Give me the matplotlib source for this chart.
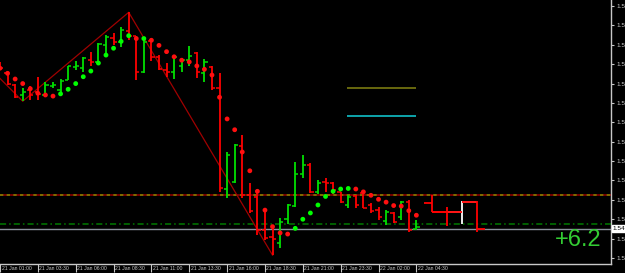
import matplotlib
matplotlib.use('Agg')
import matplotlib.pyplot as plt
import matplotlib.transforms as mtransforms
import numpy as np

# ---------------- data (M30 bars, bar index 0 = 21 Jan 01:00) ----------------
bar_index = list(range(56))
opens = [1.5764, 1.5752, 1.5731, 1.5713, 1.5722, 1.5718, 1.5713, 1.5729, 1.5722, 1.5740,
         1.5762, 1.5760, 1.5774, 1.5771, 1.5801, 1.5813, 1.5806, 1.5826, 1.5816, 1.5753,
         1.5808, 1.5780, 1.5757, 1.5753, 1.5763, 1.5774, 1.5786, 1.5752, 1.5762, 1.5725,
         1.5548, 1.5560, 1.5623, 1.5538, 1.5534, 1.5476, 1.5464, 1.5453, 1.5496, 1.5518,
         1.5574, 1.5591, 1.5543, 1.5561, 1.5559, 1.5543, 1.5520, 1.5536, 1.5541, 1.5520,
         1.5511, 1.5492, 1.5506, 1.5499, 1.5525, 1.5478]
highs = [1.5771, 1.5754, 1.5733, 1.5725, 1.5728, 1.5745, 1.5736, 1.5735, 1.5741, 1.5764,
         1.5773, 1.5780, 1.5788, 1.5804, 1.5818, 1.5822, 1.5832, 1.5858, 1.5817, 1.5813,
         1.5812, 1.5783, 1.5769, 1.5783, 1.5778, 1.5799, 1.5789, 1.5776, 1.5764, 1.5752,
         1.5613, 1.5627, 1.5643, 1.5559, 1.5546, 1.5511, 1.5485, 1.5497, 1.5522, 1.5595,
         1.5608, 1.5594, 1.5564, 1.5567, 1.5561, 1.5543, 1.5538, 1.5538, 1.5546, 1.5523,
         1.5516, 1.5511, 1.5508, 1.5527, 1.5529, 1.5494]
lows = [1.5757, 1.5730, 1.5707, 1.5702, 1.5704, 1.5704, 1.5709, 1.5726, 1.5716, 1.5739,
        1.5757, 1.5753, 1.5763, 1.5767, 1.5781, 1.5801, 1.5797, 1.5809, 1.5739, 1.5752,
        1.5773, 1.5757, 1.5745, 1.5741, 1.5754, 1.5764, 1.5743, 1.5735, 1.5722, 1.5543,
        1.5532, 1.5558, 1.5532, 1.5506, 1.5467, 1.5459, 1.5432, 1.5445, 1.5487, 1.5516,
        1.5567, 1.5541, 1.5540, 1.5543, 1.5539, 1.5524, 1.5515, 1.5515, 1.5514, 1.5506,
        1.5494, 1.5485, 1.5488, 1.5493, 1.5473, 1.5476]
closes = [1.5760, 1.5732, 1.5709, 1.5718, 1.5713, 1.5715, 1.5730, 1.5731, 1.5738, 1.5763,
          1.5763, 1.5778, 1.5771, 1.5802, 1.5815, 1.5806, 1.5827, 1.5817, 1.5753, 1.5806,
          1.5780, 1.5758, 1.5753, 1.5780, 1.5774, 1.5781, 1.5753, 1.5771, 1.5725, 1.5550,
          1.5608, 1.5625, 1.5538, 1.5509, 1.5476, 1.5462, 1.5461, 1.5490, 1.5520, 1.5574,
          1.5590, 1.5543, 1.5559, 1.5559, 1.5546, 1.5525, 1.5534, 1.5520, 1.5515, 1.5509,
          1.5499, 1.5508, 1.5490, 1.5525, 1.5476, 1.5481]

# wide (projected) bars at the right end
wide_index = [57, 59, 61, 63]
wide_open = [1.5524, 1.5508, 1.5508, 1.5526]
wide_high = [1.5538, 1.5516, 1.5527, 1.5527]
wide_low = [1.5508, 1.5484, 1.5487, 1.5473]
wide_close = [1.5508, 1.5508, 1.5526, 1.5478]
wide_kind = ['down', 'down', 'up', 'down']

# parabolic SAR dots
sar = [1.5760, 1.5751, 1.5741, 1.5733, 1.5724, 1.5716, 1.5713, 1.5711, 1.5715, 1.5723,
       1.5733, 1.5745, 1.5755, 1.5769, 1.5783, 1.5795, 1.5807, 1.5817, 1.5812, 1.5812,
       1.5809, 1.5800, 1.5789, 1.5780, 1.5774, 1.5771, 1.5764, 1.5758, 1.5748, 1.5709,
       1.5671, 1.5652, 1.5613, 1.5580, 1.5544, 1.5511, 1.5482, 1.5471, 1.5469, 1.5479,
       1.5495, 1.5506, 1.5520, 1.5535, 1.5544, 1.5548, 1.5549, 1.5548, 1.5543, 1.5537,
       1.5530, 1.5525, 1.5519, 1.5518, 1.5510, 1.5502]
sar_trend = (['d'] * 8 + ['u'] * 10 + ['d', 'u'] + ['d'] * 19 + ['u'] * 8 + ['d'] * 9)

# zigzag vertices
zigzag_index = [-3, 3, 17, 36]
zigzag_price = [1.5782, 1.5702, 1.5858, 1.5432]

# horizontal levels
level_resist = 1.5538
level_support = 1.5487
bid_price = 1.5478
seg_olive = 1.5726
seg_cyan = 1.5676
seg_from, seg_to = 45.9, 55.0

x_tick_index = [0, 5, 10, 15, 20, 25, 30, 35, 40, 45, 50, 55]
x_tick_labels = ['21 Jan 01:00', '21 Jan 03:30', '21 Jan 06:00', '21 Jan 08:30',
                 '21 Jan 11:00', '21 Jan 13:30', '21 Jan 16:00', '21 Jan 18:30',
                 '21 Jan 21:00', '21 Jan 23:30', '22 Jan 02:00', '22 Jan 04:30']
y_ticks = [1.5427, 1.5461, 1.5495, 1.5529, 1.5563, 1.5597, 1.5631,
           1.5665, 1.5699, 1.5733, 1.5767, 1.5801, 1.5835, 1.5869]
profit_text = '+6.2'

# ---------------- drawing ----------------
UP = '#00e000'
DOWN = '#ff0000'
FG = '#c8c8c8'

fig = plt.figure(figsize=(6.25, 2.73), dpi=100, facecolor='black')
ax = fig.add_axes([0.0, 9 / 273, 611 / 625, 264 / 273])
ax.set_facecolor('black')
ax.set_xlim(0.211, 80.71)
ax.set_ylim(1.541647, 1.587963)

# levels
ax.axhline(level_resist, color='#8b0000', lw=1.2, zorder=1)
ax.axhline(level_resist, color='#808000', lw=1.2, dashes=(2, 2), zorder=1)
ax.axhline(level_support, color='#007a00', lw=1.1, linestyle=(0, (4, 2, 1, 2)), zorder=1)
ax.axhline(bid_price, color='#8a909c', lw=1.0, zorder=1)
ax.hlines([seg_olive], seg_from, seg_to, color='#7a7a10', lw=1.2, zorder=1)
ax.hlines([seg_cyan], seg_from, seg_to, color='#10c0c8', lw=1.2, zorder=1)

# zigzag
ax.plot(zigzag_index, zigzag_price, color='#a00000', lw=0.9, zorder=2)

# OHLC bars
o = np.array(opens); h = np.array(highs); l = np.array(lows); c = np.array(closes)
xi = np.array(bar_index, dtype=float)
cols = [UP if cc > oo else DOWN for oo, cc in zip(o, c)]
tick = 0.42
ax.vlines(xi, l, h, colors=cols, lw=1.3, zorder=3)
ax.hlines(o, xi - tick, xi, colors=cols, lw=1.1, zorder=3)
ax.hlines(c, xi, xi + tick, colors=cols, lw=1.1, zorder=3)

# wide bars (white first so red ticks lie on top)
left_len = [1, 2, 2, 2]
right_len = [2, 2, 2, 1]
order = sorted(range(len(wide_index)), key=lambda k: 0 if wide_kind[k] == 'up' else 1)
for k in order:
    col = '#ffffff' if wide_kind[k] == 'up' else DOWN
    x = wide_index[k]
    ax.vlines(x, wide_low[k], wide_high[k], colors=col, lw=1.3, zorder=3)
    ax.hlines(wide_open[k], x - left_len[k], x, colors=col, lw=1.3, zorder=3)
    ax.hlines(wide_close[k], x, x + right_len[k], colors=col, lw=1.3, zorder=3)

# SAR dots
sar_cols = ['#00ff00' if t == 'u' else '#ff1010' for t in sar_trend]
ax.scatter(xi, sar, s=12, c=sar_cols, marker='o', linewidths=0, zorder=4)

# profit text
ax.text(0.984, 0.09, profit_text, transform=ax.transAxes, ha='right', va='center',
        color='#33cc33', fontsize=17, family=['Liberation Sans', 'DejaVu Sans'])

# axes styling
for side in ['left', 'top']:
    ax.spines[side].set_visible(False)
for side in ['right', 'bottom']:
    ax.spines[side].set_color(FG)
    ax.spines[side].set_linewidth(1.0)

tick_font = ['Liberation Sans', 'DejaVu Sans']
ax.yaxis.tick_right()
ax.set_yticks(y_ticks)
ax.set_yticklabels(['%.4f' % v for v in y_ticks], fontsize=4.6, color=FG, family=tick_font)
ax.tick_params(axis='y', direction='out', length=2.5, width=0.8, color=FG, pad=1.5)

ax.set_xticks(x_tick_index)
ax.set_xticklabels(x_tick_labels, fontsize=3.7, color=FG, family=tick_font)
ax.tick_params(axis='x', direction='out', length=6, width=0.8, color=FG, pad=-4.2)
offset = mtransforms.ScaledTranslation(1.5 / 100, 0, fig.dpi_scale_trans)
for lbl in ax.get_xticklabels():
    lbl.set_ha('left')
    lbl.set_transform(lbl.get_transform() + offset)

# current price box
trans = mtransforms.blended_transform_factory(ax.transAxes, ax.transData)
ax.text(1.0 + 1.5 / 611, bid_price, '%.4f' % bid_price, transform=trans, ha='left', va='center',
        fontsize=4.6, color='black', family=tick_font, zorder=6, clip_on=False,
        bbox=dict(boxstyle='square,pad=0.15', facecolor='white', edgecolor='white'))

fig.savefig('out.png', dpi=100, facecolor='black')
